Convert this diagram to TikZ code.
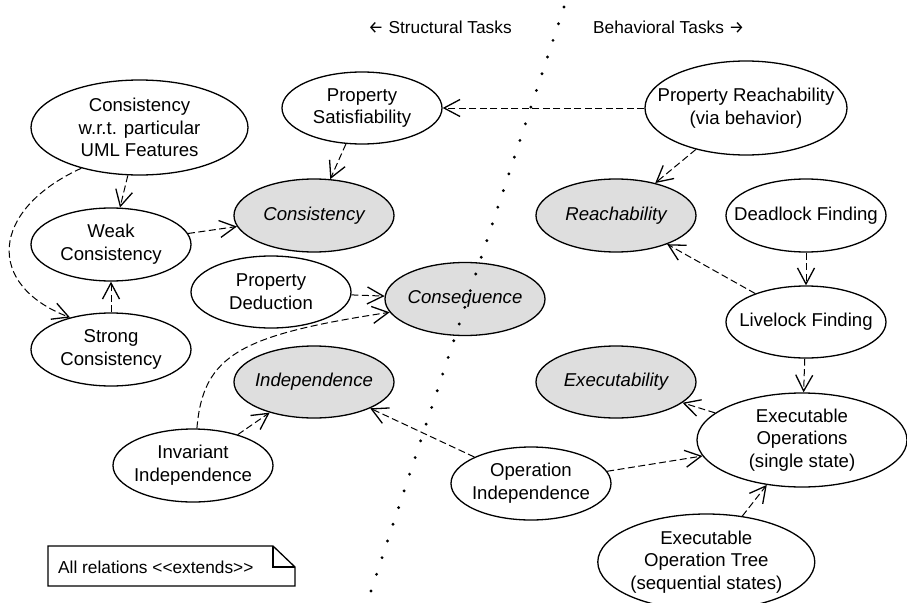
\documentclass[tikz,border=0pt]{standalone}
\usepackage{fontspec}
\setmainfont{Liberation Sans}
\newfontfamily\arrowfont{Fira Sans}
\usetikzlibrary{shapes.geometric,arrows.meta}
\definecolor{corefill}{RGB}{222,222,222}
\newcommand{\nodefont}{\fontsize{18.6}{22.7}\selectfont}
\newcommand{\smallfont}{\fontsize{17.3}{20}\selectfont}
\begin{document}
\begin{tikzpicture}[x=1pt,y=-1pt,
  task/.style={ellipse,draw,line width=1.3pt,inner sep=-40pt,align=center,font=\nodefont},
  core/.style={task,fill=corefill,font=\nodefont\itshape},
  ext/.style={line width=1pt,dash pattern=on 7pt off 3.5pt,-{Straight Barb[length=16pt,width=17pt,line width=1.3pt]}},
  headtext/.style={font=\smallfont,anchor=west,inner sep=0pt}]
\useasboundingbox (0,0) rectangle (907,602);
\clip (0,0) rectangle (907,602);

% titles
\node[headtext] (structural) at (368,27) {{\arrowfont ←} Structural Tasks};
\node[headtext] (behavioral) at (593,27) {Behavioral Tasks {\arrowfont →}};

% structural side
\node[task,minimum width=217pt,minimum height=95pt] (cwrt) at (139.5,127.5) {Consistency\\w.r.t. particular\\UML Features};
\node[task,minimum width=160pt,minimum height=72pt] (propsat) at (362,108) {Property\\Satisfiability};
\node[core,minimum width=160pt,minimum height=73pt] (cons) at (314,215.5) {Consistency};
\node[task,minimum width=160pt,minimum height=73pt] (weak) at (111,244.5) {Weak\\Consistency};
\node[task,minimum width=160pt,minimum height=72pt] (propded) at (271,292) {Property\\Deduction};
\node[task,minimum width=160pt,minimum height=73pt] (strong) at (111,349.5) {Strong\\Consistency};
\node[core,minimum width=160pt,minimum height=72pt] (indep) at (314,382) {Independence};
\node[task,minimum width=160pt,minimum height=73pt] (invind) at (193,465.5) {Invariant\\Independence};
\node[core,minimum width=160pt,minimum height=73pt] (conseq) at (465,299) {Consequence};

% behavioral side
\node[task,minimum width=202pt,minimum height=94pt] (propreach) at (746,108) {Property Reachability\\(via behavior)};
\node[core,minimum width=160pt,minimum height=73pt] (reach) at (616,215.5) {Reachability};
\node[task,minimum width=160pt,minimum height=73pt] (deadlock) at (806,215.5) {Deadlock Finding};
\node[task,minimum width=160pt,minimum height=72pt] (livelock) at (806,322) {Livelock Finding};
\node[core,minimum width=160pt,minimum height=72pt] (execab) at (616,382) {Executability};
\node[task,minimum width=210pt,minimum height=94pt] (execops) at (802,440) {Executable\\Operations\\(single state)};
\node[task,minimum width=160pt,minimum height=73pt] (opind) at (531,483.5) {Operation\\Independence};
\node[task,minimum width=217pt,minimum height=96pt] (exectree) at (706.3,562) {Executable\\Operation Tree\\(sequential states)};

% relations
\draw[ext] (propreach) -- (propsat);
\draw[ext] (propsat) -- (cons);
\draw[ext] (cwrt) -- (weak);
\draw[ext] (weak) -- (cons);
\draw[ext] (cwrt.215) .. controls (-10,210) and (-15,285) .. (strong.142);
\draw[ext] (strong) -- (weak);
\draw[ext] (propded) -- (conseq);
\draw[ext] (invind.84) .. controls (203,355) and (240,335) .. (conseq.190);
\draw[ext] (invind) -- (indep);
\draw[ext] (opind) -- (indep);
\draw[ext] (opind) -- (execops);
\draw[ext] (execops) -- (execab);
\draw[ext] (livelock) -- (execops);
\draw[ext] (deadlock) -- (livelock);
\draw[ext] (livelock) -- (reach);
\draw[ext] (propreach) -- (reach);
\draw[ext] (exectree) -- (execops);

% dotted separator
\foreach \i in {0,...,35}
  \fill ({564-\i*5.514},{7+\i*16.686}) circle (1.6pt);

% note
\draw[line width=1.3pt,line join=miter] (48,546) -- (273,546) -- (295,567) -- (295,586) -- (48,586) -- cycle;
\draw[line width=1.1pt] (273,546) -- (273,567) -- (295,567);
\node[headtext] (notetext) at (58,567) {All relations <\kern0pt<extends>\kern0pt>};
\end{tikzpicture}
\end{document}
